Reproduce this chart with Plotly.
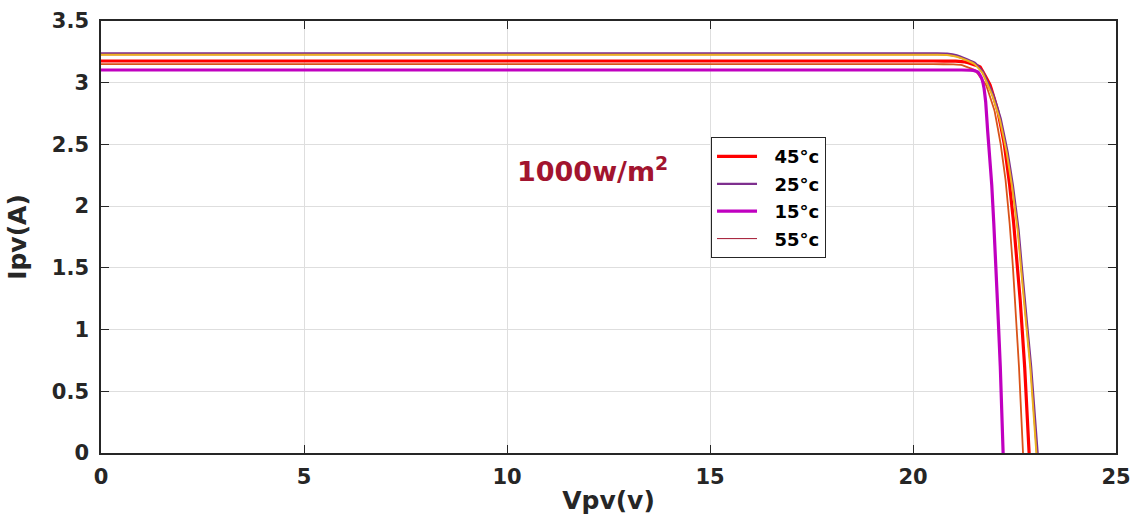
import plotly.graph_objects as go

# ---- data (Vpv in V, Ipv in A) ----
v_45 = [0, 20.5, 21.05, 21.28, 21.65, 21.90, 22.09, 22.25, 22.38, 22.48, 22.57, 22.64, 22.75, 22.86]
i_45 = [3.176, 3.176, 3.175, 3.168, 3.13, 2.98, 2.77, 2.50, 2.17, 1.86, 1.51, 1.24, 0.70, 0.0]

v_25 = [0, 20.6, 20.84, 21.08, 21.33, 21.53, 21.72, 21.98, 22.16, 22.33, 22.46, 22.60, 22.68, 22.80, 22.91, 23.07]
i_25 = [3.238, 3.238, 3.236, 3.222, 3.19, 3.16, 3.09, 2.90, 2.71, 2.44, 2.17, 1.81, 1.51, 1.08, 0.70, 0.0]

v_15 = [0, 21.2, 21.49, 21.61, 21.69, 21.75, 21.79, 21.84, 21.89, 21.94, 21.99, 22.04, 22.10, 22.15, 22.22]
i_15 = [3.103, 3.103, 3.10, 3.084, 3.036, 2.955, 2.846, 2.603, 2.39, 2.17, 1.86, 1.51, 1.08, 0.70, 0.0]

v_55 = [0, 20.6, 20.84, 21.08, 21.33, 21.52, 21.71, 21.96, 22.14, 22.31, 22.44, 22.58, 22.66, 22.78, 22.89, 23.04]
i_55 = [3.226, 3.226, 3.224, 3.21, 3.18, 3.15, 3.08, 2.89, 2.70, 2.43, 2.16, 1.80, 1.50, 1.07, 0.69, 0.0]

v_c5 = [0, 20.5, 21.0, 21.21, 21.53, 21.80, 22.01, 22.16, 22.28, 22.38, 22.46, 22.54, 22.61, 22.71]
i_c5 = [3.15, 3.15, 3.149, 3.143, 3.10, 2.98, 2.77, 2.50, 2.21, 1.86, 1.51, 1.08, 0.70, 0.0]

v_c6 = [0, 20.6, 20.84, 21.08, 21.33, 21.52, 21.71, 21.96, 22.14, 22.31, 22.44, 22.58, 22.66, 22.78, 22.89, 23.04]
i_c6 = [3.226, 3.226, 3.224, 3.21, 3.18, 3.15, 3.08, 2.89, 2.70, 2.43, 2.16, 1.80, 1.50, 1.07, 0.69, 0.0]

x_ticks = [0, 5, 10, 15, 20, 25]
y_ticks = [0, 0.5, 1, 1.5, 2, 2.5, 3, 3.5]
y_tick_text = ["0", "0.5", "1", "1.5", "2", "2.5", "3", "3.5"]

FONT = "DejaVu Sans, Verdana, sans-serif"
DARK = "#262626"
PAD = "\u00a0\u00a0"

fig = go.Figure()

# drawing order (bottom to top); legend order set by legendrank
traces = [
    dict(x=v_55, y=i_55, name="55°c", color="#A2142F", width=1, show=True, rank=4),
    dict(x=v_c5, y=i_c5, name="c5", color="#D95319", width=1.8, show=False, rank=5),
    dict(x=v_45, y=i_45, name="45°c", color="#FF0000", width=3.2, show=True, rank=1),
    dict(x=v_15, y=i_15, name="15°c", color="#C000C0", width=3.2, show=True, rank=3),
    dict(x=v_25, y=i_25, name="25°c", color="#7E2F8E", width=2.2, show=True, rank=2),
    dict(x=v_c6, y=i_c6, name="c6", color="#EDB120", width=2.0, show=False, rank=6),
]
for t in traces:
    fig.add_trace(go.Scatter(
        x=t["x"], y=t["y"], mode="lines", name=PAD + t["name"],
        line=dict(color=t["color"], width=t["width"], shape="spline", smoothing=0.15),
        showlegend=t["show"], legendrank=t["rank"], legendgroup=t["name"],
    ))

fig.add_annotation(
    x=10.2, y=2.3, xref="x", yref="y", xanchor="left", yanchor="middle",
    text="1000w/m<sup>2</sup>", showarrow=False,
    font=dict(family=FONT, size=27, color="#A2142F", weight="bold"),
)

axis_common = dict(
    showline=True, linecolor=DARK, linewidth=1.5, mirror="ticks",
    ticks="inside", ticklen=8, tickcolor=DARK, tickwidth=1,
    showgrid=True, gridcolor="#dedede", gridwidth=1, zeroline=False,
    automargin=False,
    tickfont=dict(family=FONT, size=21, color=DARK, weight="bold"),
)

fig.update_layout(
    width=1139, height=527,
    margin=dict(l=101, r=23, t=21, b=74),
    paper_bgcolor="white", plot_bgcolor="white",
    xaxis=dict(range=[0, 25], tickvals=x_ticks, ticktext=[str(v) for v in x_ticks],
               ticklabelstandoff=4,
               title=dict(text="Vpv(v)", standoff=4,
                          font=dict(family=FONT, size=25, color=DARK, weight="bold")),
               **axis_common),
    yaxis=dict(range=[0, 3.5], tickvals=y_ticks, ticktext=y_tick_text,
               ticklabelstandoff=6,
               title=dict(text="Ipv(A)", standoff=18,
                          font=dict(family=FONT, size=25, color=DARK, weight="bold")),
               **axis_common),
    legend=dict(
        x=0.601, y=0.731, xanchor="left", yanchor="top",
        bgcolor="white", bordercolor=DARK, borderwidth=1,
        font=dict(family=FONT, size=18, color="black", weight="bold"),
        tracegroupgap=1, itemwidth=40,
    ),
    showlegend=True,
)

fig.write_html("out.html")
